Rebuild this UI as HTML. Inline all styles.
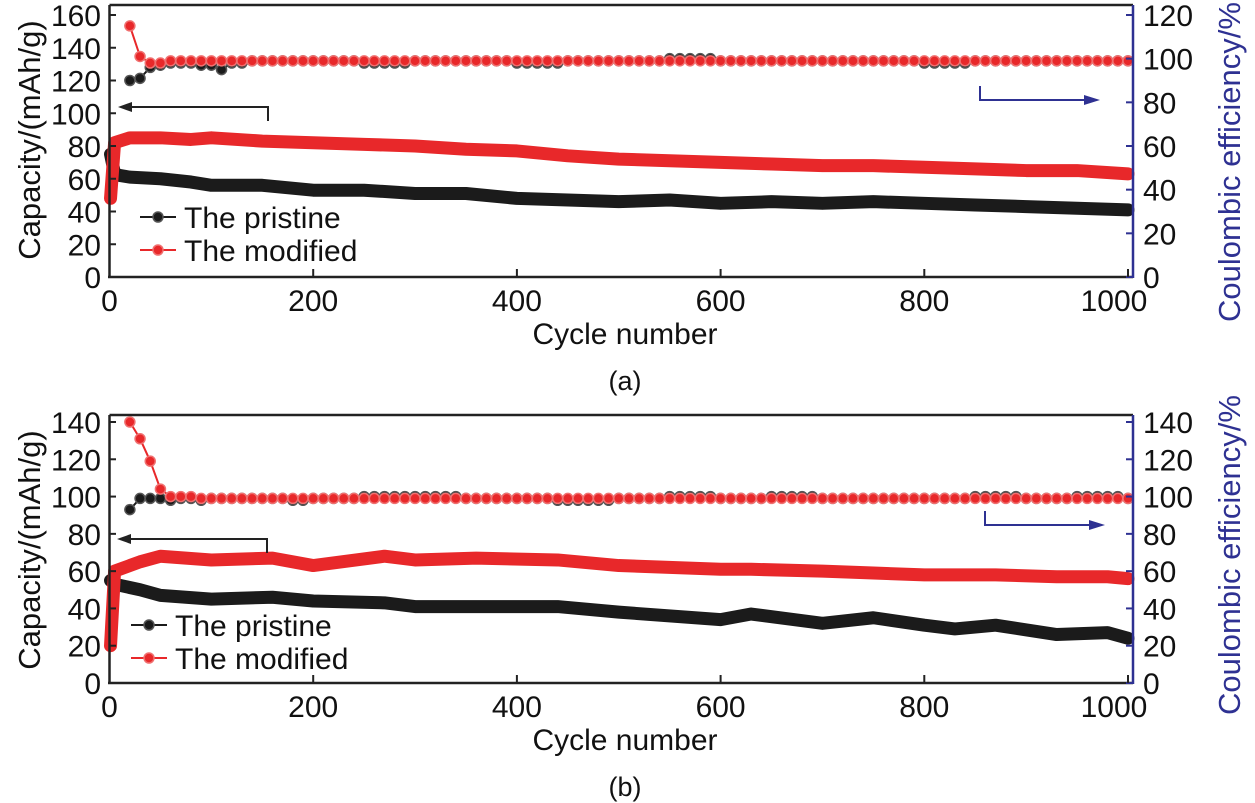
<!DOCTYPE html>
<html><head><meta charset="utf-8"><style>
html,body{margin:0;padding:0;background:#fff;}
svg{display:block;font-family:"Liberation Sans",Arial,sans-serif;}
</style></head><body>
<svg id="chart" width="1255" height="803" viewBox="0 0 1255 803" xmlns="http://www.w3.org/2000/svg"></svg>
<script>
// ---- Panel (a) data ----
const aCapCycles = [1,5,10,20,50,80,100,150,200,250,300,350,400,450,500,550,600,650,700,750,800,850,900,950,1000];
const aModCap    = [48,82,83,85,85,84,85,83,82,81,80,78,77,74,72,71,70,69,68,68,67,66,65,65,63];
const aPriCap    = [75,63,62,61,60,58,56,56,53,53,51,51,48,47,46,47,45,46,45,46,45,44,43,42,41];
const aCeCycles  = [20,30,40,50,60,70,80,90,100,110,120,140,160,180,200,250,300,350,400,450,500,550,600,650,700,750,800,850,900,950,1000];
const aModCe     = [115,101,98,98,99,99,99,99,99,99,99,99,99,99,99,99,99,99,99,99,99,99,99,99,99,99,99,99,99,99,99];
const aPriCe     = [90,91,96,97,98,98,98,97,97,95,98,99,99,99,99,98,99,99,98,99,99,100,99,99,99,99,98,99,99,99,99];
const aLeftTicks = [0,20,40,60,80,100,120,140,160];
const aRightTicks= [0,20,40,60,80,100,120];
// ---- Panel (b) data ----
const bCapCycles = [1,5,30,50,100,160,200,270,300,360,440,500,600,630,700,750,800,830,870,930,980,1000];
const bModCap    = [20,60,65,68,66,67,63,68,66,67,66,63,61,61,60,59,58,58,58,57,57,56];
const bPriCap    = [55,53,50,47,45,46,44,43,41,41,41,38,34,37,32,35,31,29,31,26,27,24];
const bCeCycles  = [20,30,40,50,60,70,80,90,100,120,140,160,180,200,250,300,350,400,440,500,550,600,650,700,750,800,850,900,950,1000];
const bModCe     = [140,131,119,104,100,100,100,99,99,99,99,99,99,99,99,99,99,99,99,99,99,99,99,99,99,99,99,99,99,99];
const bPriCe     = [93,99,99,99,98,99,99,98,99,99,99,99,98,99,100,100,99,99,98,99,100,99,100,99,99,99,100,99,100,99];
const bLeftTicks = [0,20,40,60,80,100,120,140];
const bRightTicks= [0,20,40,60,80,100,120,140];
const xTicks = [0,200,400,600,800,1000];

const NS="http://www.w3.org/2000/svg";
const svg=document.getElementById('chart');
const RED="#e8282a", BLK="#1b1b1b", BLUE="#2e3192";
const FS=30, TFS=31;
function mk(tag,attrs,parent){const e=document.createElementNS(NS,tag);for(const k in attrs)e.setAttribute(k,attrs[k]);(parent||svg).appendChild(e);return e;}

function panel(id,P){
  const g=mk('g',{});
  
  
  const xs=c=>109.5+c*1.0185;
  const yL=v=>P.y0-v*(P.y0-P.yTopPx)/P.leftMax;
  const yR=v=>P.y0-v*(P.y0-P.yTopPx)/P.rightMax;
  [[P.priCap,BLK,'pristine-capacity'],[P.modCap,RED,'modified-capacity']].forEach(([arr,col,nm])=>{
    const pts=P.capCycles.map((c,i)=>xs(c)+','+yL(arr[i])).join(' ');
    const pl=mk('polyline',{points:pts,fill:'none',stroke:col,'stroke-width':13,'stroke-linejoin':'round','stroke-linecap':'round'},g);
    
    
  });
  [[P.priCe,BLK,'#555','pristine-ce'],[P.modCe,RED,'#f07070','modified-ce']].forEach(([arr,col,hl,nm])=>{
    const pts=P.ceCycles.map((c,i)=>xs(c)+','+yR(arr[i])).join(' ');
    const pl=mk('polyline',{points:pts,fill:'none',stroke:col,'stroke-width':2},g);
    
    
    for(let c=P.ceCycles[0];c<=1000;c+=10){
      let k=0; while(k<P.ceCycles.length-1 && P.ceCycles[k+1]<=c) k++;
      const v=arr[k];
      const ci=mk('circle',{cx:xs(c),cy:yR(v),r:5,fill:col,stroke:hl,'stroke-width':1.5},g);
      
      
    }
  });
  mk('line',{x1:109.5,y1:P.top,x2:1133,y2:P.top,stroke:'#222','stroke-width':2.5},g);
  mk('line',{x1:109.5,y1:P.top,x2:109.5,y2:P.y0,stroke:'#222','stroke-width':2.5},g);
  mk('line',{x1:108,y1:P.y0,x2:1133,y2:P.y0,stroke:'#222','stroke-width':2.5},g);
  mk('line',{x1:1133,y1:P.top,x2:1133,y2:P.y0+1,stroke:BLUE,'stroke-width':2.5},g);
  P.leftTicks.forEach(v=>{
    mk('line',{x1:109.5,y1:yL(v),x2:116,y2:yL(v),stroke:'#222','stroke-width':2},g);
    const t=mk('text',{x:101,y:yL(v)+11,'font-size':FS,'text-anchor':'end',fill:'#111'},g);t.textContent=v;
    
    
  });
  P.rightTicks.forEach(v=>{
    mk('line',{x1:1126,y1:yR(v),x2:1133,y2:yR(v),stroke:BLUE,'stroke-width':2},g);
    const t=mk('text',{x:1143,y:yR(v)+11,'font-size':FS,'text-anchor':'start',fill:'#111'},g);t.textContent=v;
    
    
  });
  xTicks.forEach(v=>{
    mk('line',{x1:xs(v),y1:P.y0,x2:xs(v),y2:P.y0-8,stroke:'#222','stroke-width':2},g);
    const t=mk('text',{x:xs(v)+(v==1000?-14:0),y:P.y0+34,'font-size':FS,'text-anchor':'middle',fill:'#111'},g);t.textContent=v;
    
    
  });
  const xt=mk('text',{x:625,y:P.y0+67,'font-size':FS,'text-anchor':'middle',fill:'#111'},g);xt.textContent='Cycle number';
  
  
  const pt=mk('text',{x:625,y:P.y0+113,'font-size':27,'text-anchor':'middle',fill:'#111'},g);pt.textContent='('+id+')';
  
  
  const lt=mk('text',{x:0,y:0,'font-size':TFS,'text-anchor':'middle',fill:'#111',transform:`translate(40,${P.lTitleY}) rotate(-90)`},g);lt.textContent='Capacity/(mAh/g)';
  
  
  const rt=mk('text',{x:0,y:0,'font-size':TFS,'text-anchor':'middle',fill:BLUE,transform:`translate(1240,${P.rTitleY}) rotate(-90)`},g);rt.textContent='Coulombic efficiency/%';
  
  
  const ba=mk('path',{d:`M${P.bArrow[0]},${P.bArrow[1]+14} V${P.bArrow[1]} H${P.bArrow[2]+10}`,fill:'none',stroke:'#222','stroke-width':2},g);
  
  
  mk('path',{d:`M${P.bArrow[2]},${P.bArrow[1]} l14,-5 v10 z`,fill:'#222'},g);
  const ra=mk('path',{d:`M${P.rArrow[0]},${P.rArrow[1]-14} V${P.rArrow[1]} H${P.rArrow[2]-10}`,fill:'none',stroke:BLUE,'stroke-width':2},g);
  
  
  mk('path',{d:`M${P.rArrow[2]},${P.rArrow[1]} l-16,-5 v10 z`,fill:BLUE},g);
  [['The pristine',BLK,'#555',P.legY],['The modified',RED,'#f07070',P.legY+33]].forEach(([lab,col,hl,y],i)=>{
    const lg=mk('g',{},g);
    
    
    mk('line',{x1:P.legX,y1:y,x2:P.legX+36,y2:y,stroke:col,'stroke-width':2},lg);
    mk('circle',{cx:P.legX+18,cy:y,r:5,fill:col,stroke:hl,'stroke-width':1.5},lg);
    const t=mk('text',{x:P.legX+44,y:y+11,'font-size':FS,fill:'#111'},lg);t.textContent=lab;
  });
}
panel('a',{top:5,y0:277,yTopPx:15,leftMax:160,rightMax:120,
  capCycles:aCapCycles,modCap:aModCap,priCap:aPriCap,ceCycles:aCeCycles,modCe:aModCe,priCe:aPriCe,
  leftTicks:aLeftTicks,rightTicks:aRightTicks,lTitleY:140,rTitleY:162,
  bArrow:[268,107,118],rArrow:[980,100,1100],legX:140,legY:217});
panel('b',{top:415,y0:683,yTopPx:422,leftMax:140,rightMax:140,
  capCycles:bCapCycles,modCap:bModCap,priCap:bPriCap,ceCycles:bCeCycles,modCe:bModCe,priCe:bPriCe,
  leftTicks:bLeftTicks,rightTicks:bRightTicks,lTitleY:550,rTitleY:555,
  bArrow:[267,539,117],rArrow:[985,525,1105],legX:131,legY:625});
</script>
</body></html>
